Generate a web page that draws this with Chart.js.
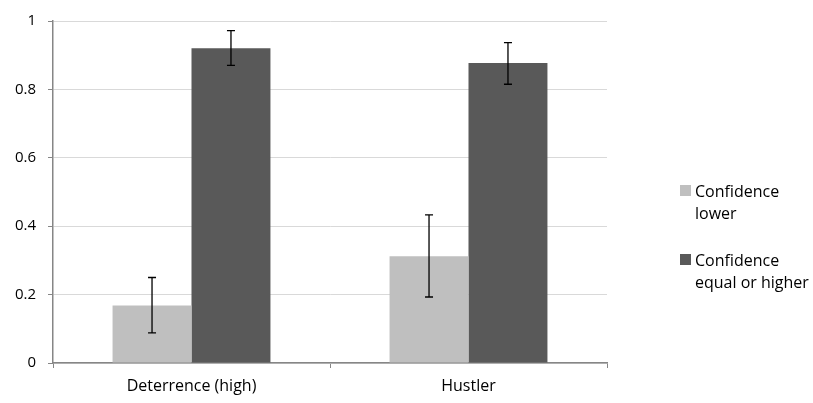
<!DOCTYPE html>
<html lang="en">
<head>
    <meta charset="UTF-8">
    <title>Confidence bar chart</title>
    <script src="https://cdn.jsdelivr.net/npm/chart.js"></script>
    <style>
        body { margin: 0; background: #fff; }
        #wrap { position: relative; width: 813px; height: 403px; }
        #legend { position: absolute; left: 680px; top: 180px; font-family: "Open Sans", sans-serif; font-size: 16px; color: #000; }
        .item { position: relative; padding-left: 15px; line-height: 22px; margin-bottom: 25px; white-space: nowrap; }
        .sw { position: absolute; left: 0; top: 5px; width: 11px; height: 11px; }
    </style>
</head>
<body>
    <div id="wrap">
        <canvas id="barChart" width="813" height="403"></canvas>
        <div id="legend"></div>
    </div>
    <script>
        const categories = ['Deterrence (high)', 'Hustler'];
        const seriesNames = [['Confidence', 'lower'], ['Confidence', 'equal or higher']];
        const lowerValues = [0.168, 0.312];
        const lowerErrLow = [0.088, 0.193];
        const lowerErrHigh = [0.25, 0.433];
        const higherValues = [0.92, 0.877];
        const higherErrLow = [0.87, 0.815];
        const higherErrHigh = [0.972, 0.937];
        const colors = ['#bfbfbf', '#595959'];
        const yTicks = [0, 0.2, 0.4, 0.6, 0.8, 1];
        const yTickLabels = ['0', '0.2', '0.4', '0.6', '0.8', '1'];

        const errorBars = {
            id: 'errorBars',
            afterDatasetsDraw(chart) {
                const c = chart.ctx;
                const y = chart.scales.y;
                c.save();
                c.strokeStyle = '#000';
                c.lineWidth = 1.3;
                chart.data.datasets.forEach((ds, i) => {
                    const meta = chart.getDatasetMeta(i);
                    meta.data.forEach((bar, j) => {
                        const top = y.getPixelForValue(ds.errHigh[j]);
                        const bot = y.getPixelForValue(ds.errLow[j]);
                        c.beginPath();
                        c.moveTo(bar.x, top); c.lineTo(bar.x, bot);
                        c.moveTo(bar.x - 4, top); c.lineTo(bar.x + 4, top);
                        c.moveTo(bar.x - 4, bot); c.lineTo(bar.x + 4, bot);
                        c.stroke();
                    });
                });
                c.restore();
            }
        };

        const ctx = document.getElementById('barChart').getContext('2d');
        const barChart = new Chart(ctx, {
            type: 'bar',
            data: {
                labels: categories,
                datasets: [{
                    label: seriesNames[0].join(' '),
                    data: lowerValues,
                    errLow: lowerErrLow,
                    errHigh: lowerErrHigh,
                    backgroundColor: colors[0],
                    categoryPercentage: 0.57,
                    barPercentage: 1
                }, {
                    label: seriesNames[1].join(' '),
                    data: higherValues,
                    errLow: higherErrLow,
                    errHigh: higherErrHigh,
                    backgroundColor: colors[1],
                    categoryPercentage: 0.57,
                    barPercentage: 1
                }]
            },
            options: {
                responsive: false,
                animation: false,
                layout: { padding: { top: 11, right: 206, left: 0, bottom: 0 } },
                plugins: { legend: { display: false }, tooltip: { enabled: false } },
                scales: {
                    x: {
                        afterFit: s => { s.height = 40; },
                        grid: { drawOnChartArea: false, drawTicks: true, tickLength: 5, tickColor: '#868686', tickWidth: 1 },
                        border: { color: '#868686', width: 1.5 },
                        ticks: { color: '#000', padding: 9, font: { family: 'Open Sans', size: 16 } }
                    },
                    y: {
                        min: 0,
                        max: 1,
                        afterFit: s => { s.width = 53; },
                        afterBuildTicks: s => { s.ticks = yTicks.map(v => ({ value: v })); },
                        grid: { color: '#d9d9d9', tickColor: '#868686', tickLength: 5, lineWidth: 1 },
                        border: { color: '#868686', width: 1.5 },
                        ticks: {
                            color: '#000',
                            padding: 12,
                            font: { family: 'Open Sans', size: 15 },
                            callback: (v, i) => yTickLabels[i]
                        }
                    }
                }
            },
            plugins: [errorBars]
        });

        const legend = document.getElementById('legend');
        seriesNames.forEach((lines, i) => {
            const item = document.createElement('div');
            item.className = 'item';
            item.innerHTML = '<span class="sw" style="background:' + colors[i] + '"></span>' + lines.join('<br>');
            legend.appendChild(item);
        });
    </script>
</body>
</html>
